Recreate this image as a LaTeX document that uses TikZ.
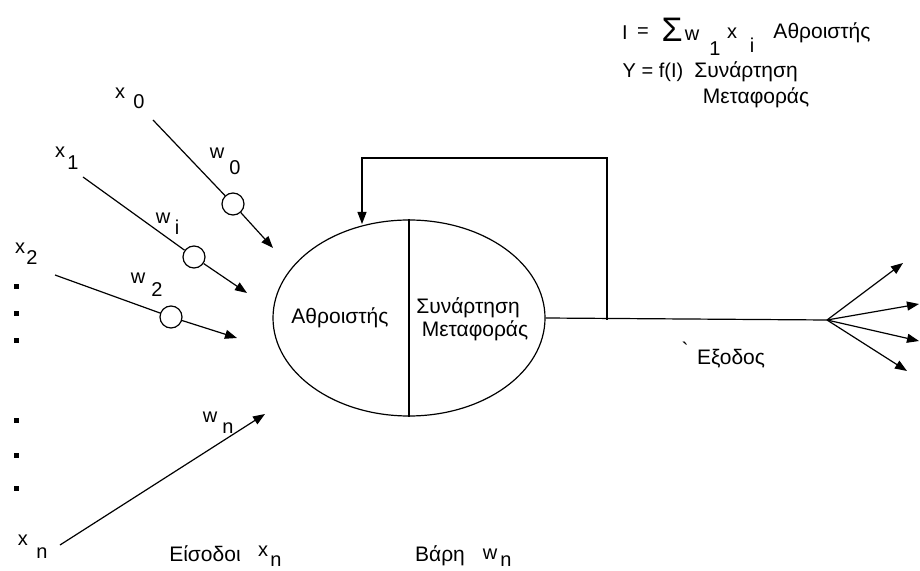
\documentclass[tikz,border=0pt]{standalone}
\usepackage{fontspec}
\setmainfont{Liberation Sans}
\usetikzlibrary{shapes.geometric,arrows.meta}
\begin{document}
\begin{tikzpicture}[x=0.5pt,y=-0.5pt, line width=0.6pt,
  txt/.style={inner sep=0, font=\fontsize{10.5}{12}\selectfont},
  sym/.style={inner sep=0, font=\fontsize{10}{12}\selectfont},
  big/.style={inner sep=0, font=\fontsize{17}{18}\selectfont},
  wt/.style={draw, circle, minimum size=11pt, inner sep=0},
  arr/.style={-{Triangle[length=6pt,width=4.5pt]}},
  sq/.style={fill, minimum size=2.5pt, inner sep=0}]
\useasboundingbox (0,0) rectangle (920,571);

% neuron
\node[draw, ellipse, minimum width=136pt, minimum height=98pt, inner sep=0] (neuron) at (409,318) {};
\draw (neuron.north) -- (neuron.south);
\node[txt] (sum) at (340,318) {Αθροιστής};
\node[txt] (fa) at (468,308) {Συνάρτηση};
\node[txt] (fb) at (475,331) {Μεταφοράς};

% inputs
\coordinate (s0) at (153,120); \node[wt] (c0) at (233,204) {}; \coordinate (t0) at (273,248);
\draw (s0) -- (c0); \draw[arr] (c0) -- (t0);
\coordinate (s1) at (83,177); \node[wt] (c1) at (194,257) {}; \coordinate (t1) at (247,293);
\draw (s1) -- (c1); \draw[arr] (c1) -- (t1);
\coordinate (s2) at (55,275); \node[wt] (c2) at (171,317) {}; \coordinate (t2) at (237,338);
\draw (s2) -- (c2); \draw[arr] (c2) -- (t2);
\coordinate (sn) at (60,545); \coordinate (tn) at (265,414);
\draw[arr] (sn) -- (tn);

% input labels
\node[sym] (x0a) at (120,93) {x}; \node[sym] (x0b) at (139,102) {0};
\node[sym] (w0a) at (217,153) {w}; \node[sym] (w0b) at (235,168) {0};
\node[sym] (x1a) at (60,152) {x}; \node[sym] (x1b) at (73,163) {1};
\node[sym] (wia) at (163,218) {w}; \node[sym] (wib) at (177,227) {i};
\node[sym] (x2a) at (20,248) {x}; \node[sym] (x2b) at (32,258) {2};
\node[sym] (w2a) at (138,278) {w}; \node[sym] (w2b) at (157,290) {2};
\node[sym] (xna) at (23,540) {x}; \node[sym] (xnb) at (42,553) {n};
\node[sym] (wna) at (210,417) {w}; \node[sym] (wnb) at (228,428) {n};

% dots
\node[sq] (d1) at (16,287) {}; \node[sq] (d2) at (16,314) {}; \node[sq] (d3) at (16,341) {};
\node[sq] (d4) at (16,420) {}; \node[sq] (d5) at (16,455) {}; \node[sq] (d6) at (16,488) {};

% output and feedback
\coordinate (fan) at (827,320);
\coordinate (fbx) at (607,320);
\coordinate (fb1) at (607,158);
\coordinate (fb2) at (362,158);
\coordinate (fbend) at (362,224);
\draw (neuron.east) -- (fan);
\draw[arr] (fbx) -- (fb1) -- (fb2) -- (fbend);
\coordinate (o1) at (903,263); \coordinate (o2) at (919,304);
\coordinate (o3) at (919,341); \coordinate (o4) at (907,371);
\draw[arr] (fan) -- (o1);
\draw[arr] (fan) -- (o2);
\draw[arr] (fan) -- (o3);
\draw[arr] (fan) -- (o4);
\node[txt] (grv) at (685,350) {\textasciigrave};
\node[txt] (out) at (731,359) {Εξοδος};

% top formulas
\node[sym] (fI) at (625,33) {I};
\node[sym] (feq) at (643,33) {=};
\node[big] (fS) at (672,30) {Σ};
\node[sym] (fw) at (692,35) {w};
\node[sym] (f1) at (715,49) {1};
\node[sym] (fx) at (732,33) {x};
\node[sym] (fi) at (752,45) {i};
\node[txt] (fsum) at (822,33) {Αθροιστής};
\node[sym] (fY) at (653,72) {Y = f(I)};
\node[txt] (fta) at (746,72) {Συνάρτηση};
\node[txt] (ftb) at (756,98) {Μεταφοράς};

% bottom labels
\node[txt] (ins) at (205,554) {Είσοδοι};
\node[sym] (insx) at (263,551) {x}; \node[sym] (insn) at (276,561) {n};
\node[txt] (wts) at (440,556) {Βάρη};
\node[sym] (wtsw) at (490,554) {w}; \node[sym] (wtsn) at (506,561) {n};
\end{tikzpicture}
\end{document}
